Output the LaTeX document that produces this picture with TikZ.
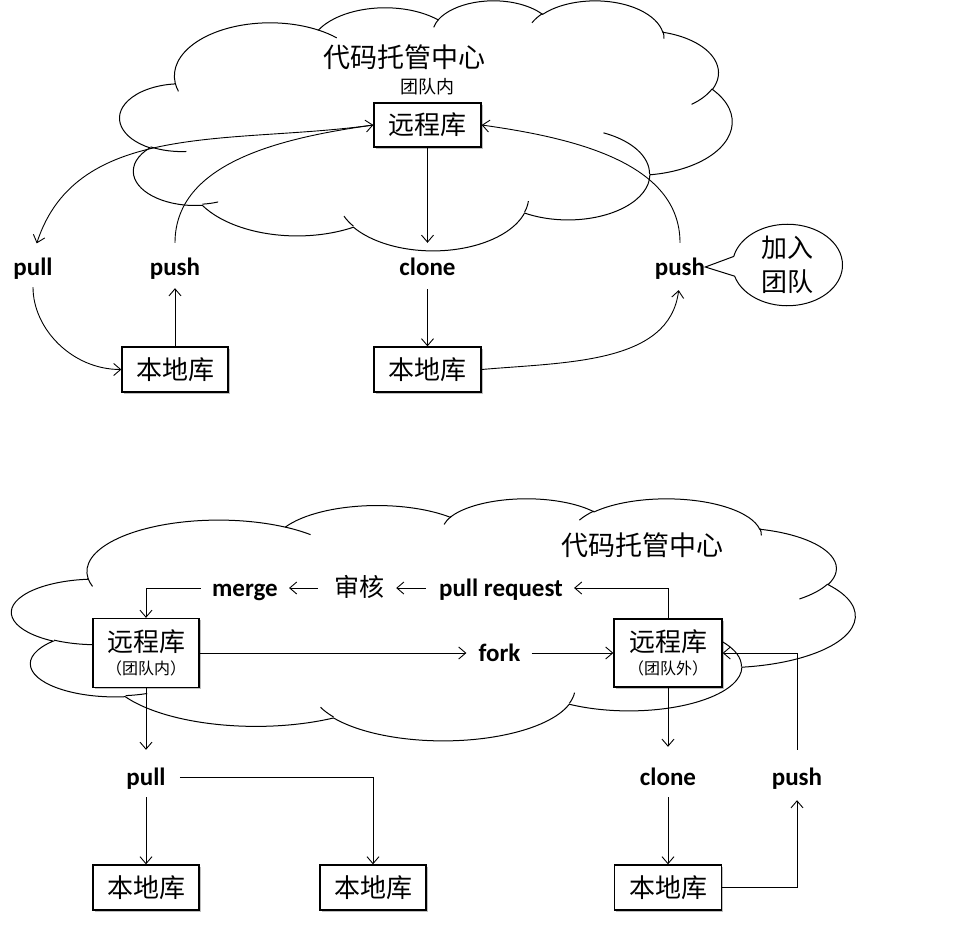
\documentclass[tikz,border=0pt]{standalone}
\usepackage{fontspec}
\usetikzlibrary{arrows.meta,shapes.callouts,shadows}
\newfontfamily\enfont{Carlito}
\newfontfamily\cjk{Noto Sans CJK SC}
\newcommand\labfont{\enfont\bfseries\fontsize{25}{30}\selectfont}
\newcommand\cjkL{\cjk\fontsize{26}{30}\selectfont}
\newcommand\cjkT{\cjk\fontsize{27}{32}\selectfont}
\newcommand\cjkS{\cjk\fontsize{18}{22}\selectfont}
\newcommand\cjkXS{\cjk\fontsize{16}{18}\selectfont}
% Office-style arc: wR/hR/stAng/swAng (visual angles, degrees)
\def\oarcsplit#1/#2/#3/#4\relax{%
  \pgfmathsetmacro\oaS{#3}%
  \pgfmathsetmacro\oaE{#3+#4}%
  \pgfmathsetmacro\oaA{atan2((#1)*sin(\oaS),(#2)*cos(\oaS))}%
  \pgfmathsetmacro\oaB{atan2((#1)*sin(\oaE),(#2)*cos(\oaE))}%
  \pgfmathsetmacro\oaD{mod(\oaB-\oaA+720,360)}%
  \edef\oanext{\noexpand\pgfkeysalso{/tikz/x radius=#1,/tikz/y radius=#2,/tikz/start angle=\oaA,/tikz/delta angle=\oaD}}%
  \oanext}
\tikzset{
  oarc/.code={\oarcsplit#1\relax},
  cloudline/.style={line width=1pt, black},
  arr/.style={-{Straight Barb[length=7pt,width=12pt]}, line width=0.9pt},
  lab/.style={font=\labfont, inner sep=0pt, text height=20pt, text depth=4pt},
  cjklab/.style={font=\cjk\fontsize{25}{30}\selectfont, inner sep=0pt, text height=20pt, text depth=4pt},
  box/.style={draw, line width=1.3pt, fill=white, inner sep=0pt, font=\cjkL,
    drop shadow={shadow xshift=1.5pt, shadow yshift=-1.5pt, opacity=0.25, fill=black}},
  intext/.style={inner sep=0pt, font=\cjkL},
  insmall/.style={inner sep=0pt, font=\cjkXS},
}
\newcommand\officecloud[4]{%
\begin{scope}[shift={(#1,-#2)}, xscale=#3/432, yscale=-#4/432]
\draw[cloudline, fill=white] (39,143.7)
  arc[oarc={67.53/91.90/-190.4875/123.7805}]
  arc[oarc={53.33/72.67/-144.1024/89.9452}]
  arc[oarc={43.65/59.45/-145.8079/99.7230}]
  arc[oarc={48.57/65.95/-130.9861/117.2417}]
  arc[oarc={53.33/72.73/-78.7089/109.0269}]
  arc[oarc={67.75/92.20/-46.2673/130.2690}]
  arc[oarc={57.85/78.67/0.6250/114.0333}]
  arc[oarc={67.52/92.15/22.4516/115.1726}]
  arc[oarc={77.20/105.43/66.2426/75.7110}]
  arc[oarc={43.60/59.18/-274.9421/146.7356}]
  arc[oarc={43.45/59.45/-246.8285/152.5189}]
  -- cycle;
\draw[cloudline]
  (46.93,261.77) arc[oarc={43.45/59.45/86.7420/26.4295}]
  (69.28,348.99) arc[oarc={43.60/59.18/73.6105/11.4475}]
  (164.78,390.90) arc[oarc={67.52/92.15/137.6242/14.0811}]
  (288.27,347.51) arc[oarc={67.52/92.15/6.4533/15.9984}]
  (341.29,229.54) arc[oarc={57.85/78.67/-70.2924/70.9174}]
  (417.98,153.54) arc[oarc={53.33/72.73/30.3180/27.7515}]
  (383.24,54.26) arc[oarc={48.57/65.95/-13.7443/14.8589}]
  (290.78,39.52) arc[oarc={48.57/65.95/-149.1815/18.1954}]
  (221.41,47.20) arc[oarc={43.65/59.45/-163.4943/17.6864}]
  (140.00,51.92) arc[oarc={67.53/91.90/-66.7070/12.3194}]
  (41.27,157.89) arc[oarc={67.53/91.90/157.6544/11.8582}];
\end{scope}}
\begin{document}
\begin{tikzpicture}[x=1pt,y=1pt]
\useasboundingbox (0,0) rectangle (969,-950);
% ---------- top part ----------
\officecloud{120}{0}{612}{250}
\node[font=\cjkT, inner sep=0pt] (titleT) at (404,-57) {代码托管中心};
\node[font=\cjkS, inner sep=0pt] (teamT) at (427,-87) {团队内};
\node[box, minimum width=107pt, minimum height=44pt] (remT) at (427.5,-125) {远程库};
\node[lab] (pullT) at (33,-267) {pull};
\node[lab] (pushL) at (175,-267) {push};
\node[lab] (cloneT) at (427.5,-267) {clone};
\node[lab] (pushR) at (680,-267) {push};
\node[box, minimum width=106pt, minimum height=45pt] (locL) at (175,-369.5) {本地库};
\node[box, minimum width=107pt, minimum height=45pt] (locM) at (427.5,-369.5) {本地库};
\node[ellipse callout, draw, line width=1pt, fill=white, minimum width=110pt, minimum height=75pt,
  inner sep=0pt, callout absolute pointer={(pushR.east)}, callout pointer arc=28,
  align=center, font=\cjk\fontsize{26}{34}\selectfont] (join) at (787.5,-265) {加入\\团队};
\draw[arr, shorten >=12pt] (remT.south) -- (cloneT.north);
\draw[arr, shorten <=10pt] (cloneT.south) -- (locM.north);
\draw[arr, shorten >=9pt] (locL.north) -- (pushL.south);
\draw[arr, shorten <=8pt] (pullT.south) to[out=-90,in=180] (locL.west);
\draw[arr, shorten <=12pt] (pushL.north) to[out=90,in=188] (remT.west);
\draw[arr, shorten >=12pt] (remT.west) to[out=188,in=72] (pullT.north);
\draw[arr, shorten <=12pt] (pushR.north) to[out=90,in=-8] (remT.east);
\draw[arr, shorten >=11pt] (locM.east) to[out=5,in=-97] (pushR.south);
% ---------- bottom part ----------
\officecloud{12}{498}{843}{242}
\node[font=\cjkT, inner sep=0pt] (titleB) at (642,-545) {代码托管中心};
\node[lab] (merge) at (245,-588) {merge};
\node[cjklab] (shenhe) at (359,-588) {审核};
\node[lab] (pullreq) at (501,-588) {pull request};
\node[lab] (fork) at (499.5,-653) {fork};
\node[box, minimum width=106pt, minimum height=69pt] (remB1) at (146,-653) {};
\node[intext] (remB1t) at (146,-642) {远程库};
\node[insmall] (remB1s) at (146,-668) {（团队内）};
\node[box, minimum width=108pt, minimum height=68pt] (remB2) at (668,-653) {};
\node[intext] (remB2t) at (668,-642) {远程库};
\node[insmall] (remB2s) at (668,-668) {（团队外）};
\node[lab] (pullB) at (146,-777) {pull};
\node[lab] (cloneB) at (668,-777) {clone};
\node[lab] (pushB) at (797,-777) {push};
\node[box, minimum width=106pt, minimum height=45pt] (locB1) at (146,-887.5) {本地库};
\node[box, minimum width=106pt, minimum height=45pt] (locB2) at (373,-887.5) {本地库};
\node[box, minimum width=107pt, minimum height=45pt] (locB3) at (668,-887.5) {本地库};
\draw[arr, shorten <=11pt] (merge.west) -| (remB1.north);
\draw[arr, shorten <=16pt, shorten >=11pt] (shenhe.west) -- (merge.east);
\draw[arr, shorten <=13pt, shorten >=12pt] (pullreq.west) -- (shenhe.east);
\draw[arr, shorten >=11pt] (remB2.north) |- (pullreq.east);
\draw[arr, shorten >=12pt] (remB1.east) -- (fork.west);
\draw[arr, shorten <=11pt] (fork.east) -- (remB2.west);
\draw[arr, shorten >=15pt] (remB1.south) -- (pullB.north);
\draw[arr, shorten <=8pt] (pullB.south) -- (locB1.north);
\draw[arr, shorten <=14pt] (pullB.east) -| (locB2.north);
\draw[arr, shorten >=18pt] (remB2.south) -- (cloneB.north);
\draw[arr, shorten <=8pt] (cloneB.south) -- (locB3.north);
\draw[arr, shorten >=11pt] (locB3.east) -| (pushB.south);
\draw[arr, shorten <=15pt] (pushB.north) |- (remB2.east);
\end{tikzpicture}
\end{document}
